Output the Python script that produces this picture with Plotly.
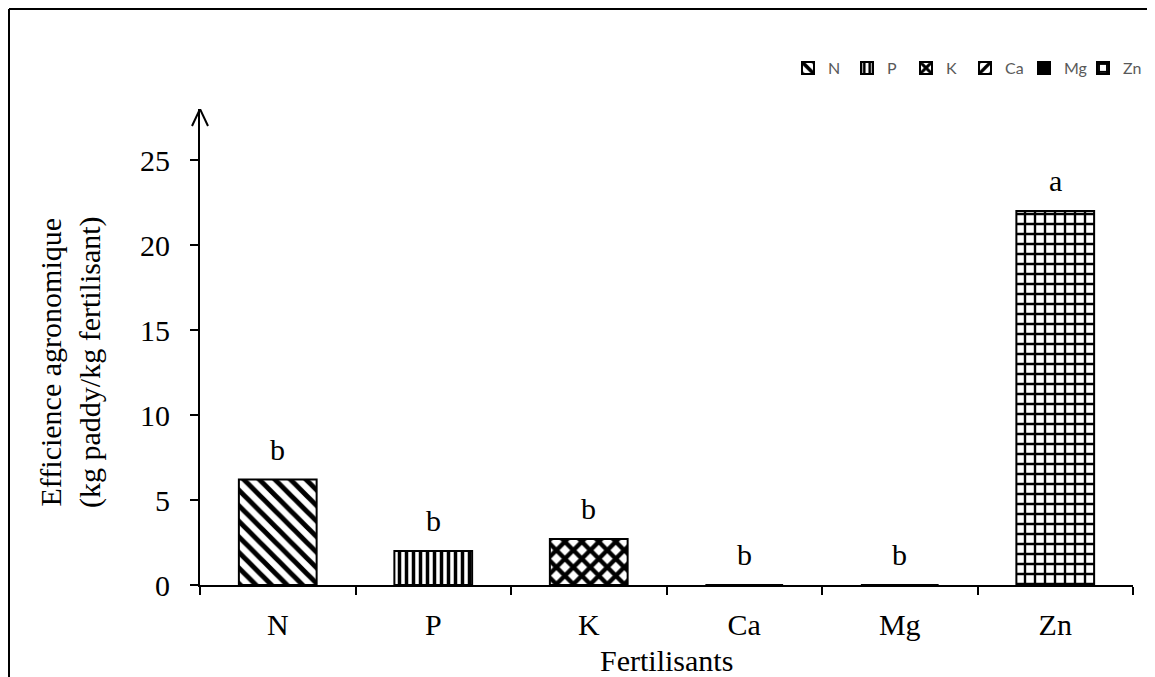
import plotly.graph_objects as go

categories = ["N", "P", "K", "Ca", "Mg", "Zn"]
values = [6.2, 2.0, 2.7, 0.0, 0.0, 22.0]
letters = ["b", "b", "b", "b", "b", "a"]
y_ticks = [0, 5, 10, 15, 20, 25]

patterns = {
    "N": dict(shape="\\", size=11, solidity=0.45),
    "P": dict(shape="|", size=7, solidity=0.5),
    "K": dict(shape="x", size=12, solidity=0.6),
    "Ca": dict(shape="/", size=10, solidity=0.4),
    "Mg": dict(shape="", size=8, solidity=0.3),
    "Zn": dict(shape="+", size=10, solidity=0.42),
}

SERIF = "Liberation Serif"
OFF = 8  # default page body margin
W, H = 1155 - OFF, 677 - OFF
AX_L, AX_R, AX_B, AX_T = 200, 1133, 585, 109   # page pixels of plot area
ML, MR, MT = AX_L - OFF, W - (AX_R - OFF), AX_T - OFF
MB = H - (AX_B - OFF)
YMAX = 28
pw = W - ML - MR
ph = H - MT - MB


def px(xp):
    return (xp - AX_L) / pw


def py(yp):
    return (AX_B - yp) / ph


fig = go.Figure()
for cat, val in zip(categories, values):
    p = patterns[cat]
    if cat == "Mg":
        marker = dict(color="black", line=dict(color="black", width=2))
    else:
        marker = dict(color="white", line=dict(color="black", width=2),
                      pattern=dict(shape=p["shape"], size=p["size"], solidity=p["solidity"],
                                   fgcolor="black", bgcolor="white", fillmode="replace"))
    fig.add_trace(go.Bar(x=[cat], y=[val], name=cat, width=0.5, marker=marker,
                         hoverinfo="skip"))

for cat, val, lab in zip(categories, values, letters):
    fig.add_annotation(x=cat, y=val, text=lab, showarrow=False, yanchor="bottom",
                       yshift=12, font=dict(family=SERIF, size=30, color="black"))

# axis titles
fig.add_annotation(xref="paper", yref="paper", x=px(70), y=py(362),
                   text="Efficience agronomique<br>(kg paddy/kg fertilisant)", textangle=-90,
                   showarrow=False, xanchor="center", yanchor="middle",
                   font=dict(family=SERIF, size=30, color="black"))
fig.add_annotation(xref="paper", yref="paper", x=0.5, y=py(660),
                   text="Fertilisants", showarrow=False, xanchor="center", yanchor="middle",
                   font=dict(family=SERIF, size=30, color="black"))

# arrow head on y-axis
dx = 8 / pw
dy = 17 / ph * YMAX
fig.add_shape(type="path", xref="paper", yref="y",
              path=f"M {-dx} {YMAX - dy} L 0 {YMAX} L {dx} {YMAX - dy}",
              line=dict(color="black", width=2))

# outer frame (left and top lines)
fx = px(9)
fy = py(9)
fig.add_shape(type="line", xref="paper", yref="paper", x0=fx, x1=fx, y0=fy, y1=-0.3,
              line=dict(color="black", width=2))
fig.add_shape(type="line", xref="paper", yref="paper", x0=fx, x1=1.1, y0=fy, y1=fy,
              line=dict(color="black", width=2))

fig.update_layout(
    width=W, height=H,
    font=dict(family=SERIF, size=30, color="black"),
    margin=dict(l=ML, r=MR, t=MT, b=MB, autoexpand=False),
    paper_bgcolor="white", plot_bgcolor="white",
    barmode="overlay",
    showlegend=True,
    legend=dict(orientation="h", x=px(1142), xanchor="right", y=py(68), yanchor="middle",
                font=dict(family="Lato", size=16, color="#595959"),
                entrywidth=14, itemwidth=30, bgcolor="rgba(0,0,0,0)"),
    xaxis=dict(type="category", categoryorder="array", categoryarray=categories,
               showline=True, linecolor="black", linewidth=2,
               ticks="outside", tickson="boundaries", ticklen=8, tickwidth=2, tickcolor="black",
               tickfont=dict(family=SERIF, size=30, color="black"),
               ticklabelstandoff=12, showgrid=False, zeroline=False, fixedrange=True),
    yaxis=dict(range=[0, YMAX], tickvals=y_ticks, showline=True, linecolor="black", linewidth=2,
               ticks="outside", ticklen=8, tickwidth=2, tickcolor="black",
               tickfont=dict(family=SERIF, size=30, color="black"),
               ticklabelstandoff=14, showgrid=False, zeroline=False, fixedrange=True),
)

fig.write_html("out.html")
